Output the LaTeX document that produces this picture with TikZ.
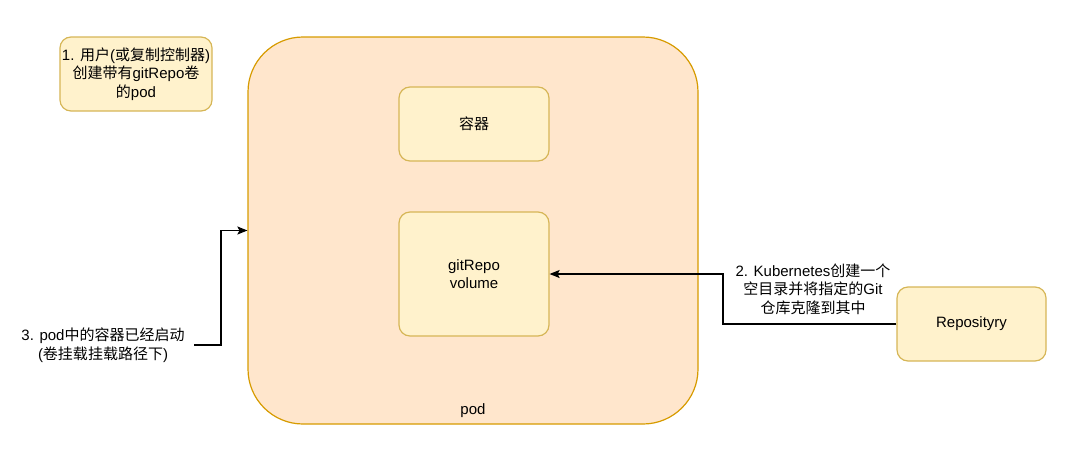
\documentclass[tikz,border=0pt]{standalone}
\usepackage{fontspec}
\setmainfont{Liberation Sans}
\newfontfamily\cjkf{Noto Sans CJK SC}
\newcommand\zh[1]{{\cjkf #1}}
\usetikzlibrary{arrows.meta}
\definecolor{podfill}{HTML}{FFE6CC}
\definecolor{podline}{HTML}{D79B00}
\definecolor{boxfill}{HTML}{FFF2CC}
\definecolor{boxline}{HTML}{D6B656}
\tikzset{
  podbox/.style={draw=podline,fill=podfill,line width=1.2pt,rounded corners=55pt,minimum width=450pt,minimum height=387pt,inner sep=0pt},
  ybox/.style={draw=boxline,fill=boxfill,line width=1.2pt,rounded corners=11pt,minimum width=150pt,inner sep=2pt,align=center,font=\fontsize{15}{18.5}\selectfont},
  txt/.style={align=center,inner sep=0pt,font=\fontsize{15}{18.5}\selectfont},
  arr/.style={draw=black,line width=1.2pt,-{Stealth[length=10pt,width=8pt,inset=2pt]}}
}
\begin{document}
\begin{tikzpicture}[x=1pt,y=-1pt]
\useasboundingbox (0,0) rectangle (1067,455);
\node[podbox] (pod) at (473,230.5) {};
\node[txt] (podlabel) at (473,411) {pod};
\node[ybox,minimum height=74pt] (cont) at (474,124) {\zh{容器}};
\node[ybox,minimum height=124pt] (vol) at (474,274) {gitRepo\\volume};
\node[ybox,minimum height=74pt] (note1) at (136,74) {1. \zh{用户}(\zh{或复制控制器})\\\zh{创建带有}gitRepo\zh{卷}\\\zh{的}pod};
\node[ybox,minimum width=149pt,minimum height=74pt] (repo) at (971.5,324) {Reposityry};
\node[txt] (lab2) at (813,289) {2. Kubernetes\zh{创建一个}\\\zh{空目录并将指定的}Git\\\zh{仓库克隆到其中}};
\node[txt] (t3) at (103,345) {3. pod\zh{中的容器已经启动}\\(\zh{卷挂载挂载路径下})};
\coordinate (b1) at (723,324);
\coordinate (s3) at (194,345);
\coordinate (b2) at (221,230.5);
\draw[arr] (repo.west) -- (b1) |- (vol.east);
\draw[arr] (s3) -| (b2) -- (pod.west);
\end{tikzpicture}
\end{document}
